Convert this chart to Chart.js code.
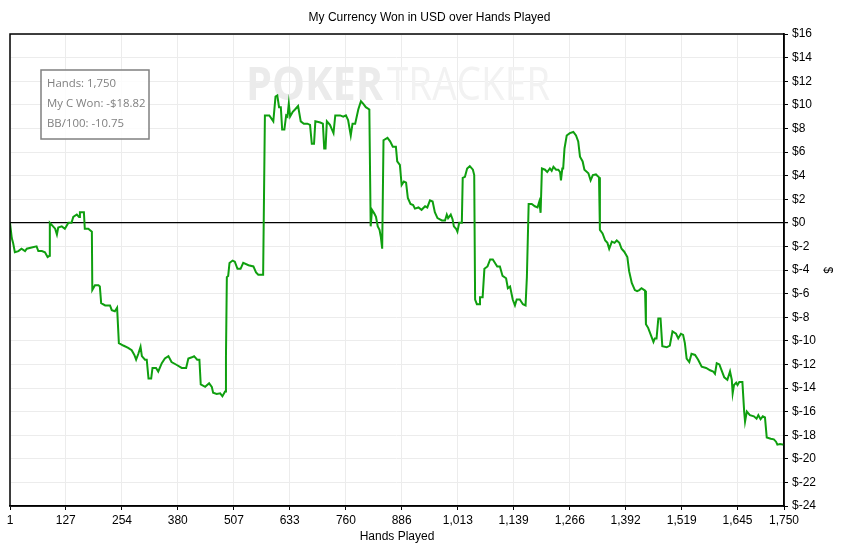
<!DOCTYPE html>
<html>
<head>
<meta charset="utf-8">
<script src="https://cdn.jsdelivr.net/npm/chart.js@4.4.1/dist/chart.umd.min.js"></script>
<style>
  html, body { margin: 0; padding: 0; background: #fff; }
  #wrap { width: 849px; height: 546px; position: relative; }
</style>
</head>
<body>
<div id="wrap"><canvas id="myChart"></canvas></div>
<script>
// hands played (x) and cumulative winnings in USD (y)
const hands = [
  1, 5, 8, 12, 20, 27, 35, 39, 50, 61, 65, 73, 80, 86, 90, 91,
  103, 107, 110, 118, 125, 133, 140, 144, 152, 157, 159, 168, 170, 178, 186, 187,
  193, 201, 204, 207, 216, 227, 231, 238, 243, 247, 257, 268, 276, 282, 286, 291,
  296, 299, 306, 310, 314, 320, 323, 331, 336, 344, 351, 359, 366, 378, 389, 399,
  404, 412, 417, 424, 429, 432, 442, 451, 457, 460, 468, 476, 481, 487, 489, 491,
  494, 497, 504, 509, 515, 522, 528, 540, 551, 557, 562, 573, 577, 587, 596, 601,
  605, 609, 613, 616, 621, 625, 628, 631, 634, 640, 645, 652, 658, 665, 673, 679,
  683, 688, 691, 702, 708, 711, 714, 717, 724, 732, 736, 747, 754, 760, 765, 771,
  775, 781, 788, 794, 799, 805, 813, 816, 819, 824, 828, 832, 836, 839, 842, 845,
  854, 860, 866, 873, 876, 882, 886, 891, 896, 900, 906, 912, 916, 924, 931, 939,
  944, 950, 956, 961, 967, 977, 984, 988, 991, 997, 1001, 1004, 1009, 1012, 1016, 1022,
  1024, 1029, 1034, 1040, 1047, 1050, 1052, 1056, 1061, 1063, 1069, 1073, 1080, 1086, 1092, 1097,
  1102, 1108, 1114, 1122, 1126, 1131, 1137, 1142, 1146, 1153, 1160, 1166, 1169, 1173, 1180, 1187,
  1193, 1197, 1200, 1203, 1210, 1215, 1221, 1225, 1229, 1235, 1240, 1244, 1246, 1249, 1251, 1254,
  1259, 1266, 1274, 1280, 1285, 1289, 1295, 1299, 1308, 1313, 1318, 1325, 1332, 1334, 1340, 1346,
  1351, 1355, 1361, 1367, 1372, 1378, 1383, 1389, 1396, 1400, 1406, 1413, 1418, 1423, 1428, 1436,
  1438, 1443, 1449, 1455, 1458, 1462, 1466, 1471, 1475, 1485, 1492, 1498, 1506, 1511, 1517, 1522,
  1526, 1530, 1536, 1541, 1549, 1556, 1564, 1574, 1583, 1590, 1594, 1598, 1604, 1609, 1615, 1622,
  1628, 1632, 1634, 1637, 1642, 1645, 1649, 1656, 1660, 1662, 1666, 1673, 1682, 1688, 1692, 1697,
  1702, 1707, 1711, 1720, 1727, 1732, 1735, 1741, 1750
];
const wonUsd = [
  0, -1.3, -1.7, -2.5, -2.4, -2.2, -2.4, -2.2, -2.1, -2.0, -2.4, -2.4, -2.5, -2.9, -2.8, 0,
  -0.5, -1.0, -0.4, -0.3, -0.5, 0, 0, 0.5, 0.7, 0.5, 0.9, 0.9, -0.5, -0.5, -0.75, -5.7,
  -5.3, -5.3, -5.4, -6.8, -7.0, -7.0, -7.4, -7.5, -7.2, -10.2, -10.4, -10.6, -10.8, -11.2, -11.6, -11.1,
  -10.5, -11.3, -11.6, -11.6, -13.2, -13.2, -12.3, -12.3, -12.6, -11.9, -11.5, -11.3, -11.8, -12.05, -12.3, -12.3,
  -11.5, -11.4, -11.3, -11.6, -11.6, -13.7, -13.9, -13.6, -13.9, -14.4, -14.5, -14.45, -14.7, -14.3, -11.3, -4.6,
  -4.5, -3.4, -3.2, -3.3, -3.9, -3.9, -3.4, -3.6, -3.7, -4.2, -4.4, -4.4, 9.1, 9.1, 8.6, 10.7,
  10.8, 9.8, 9.8, 7.9, 7.9, 9.1, 9.0, 10.1, 9.0, 9.4, 9.6, 9.9, 8.6, 8.4, 8.4, 8.3,
  6.7, 6.7, 8.6, 8.5, 8.4, 6.3, 6.3, 8.6, 8.3, 7.6, 9.1, 9.1, 9.0, 9.1, 8.7, 7.4,
  8.4, 8.4, 9.6, 10.3, 10.1, 9.8, 9.6, -0.3, 1.1, 0.8, 0.5, -0.3, -0.6, -1.2, -2.2, 7.0,
  7.2, 6.9, 6.45, 6.45, 5.2, 4.9, 3.2, 3.5, 3.4, 2.1, 1.6, 1.5, 1.2, 1.3, 1.1, 1.4,
  1.3, 1.9, 1.8, 0.9, 0.4, 0.2, 0.2, 0.7, 0.4, 0.7, 0.3, -0.3, -0.5, -0.75, 0, 0,
  3.8, 3.9, 4.6, 4.8, 4.5, 4.05, -6.5, -6.9, -6.9, -6.3, -6.3, -3.9, -3.7, -3.1, -3.1, -3.4,
  -3.7, -3.7, -4.5, -4.7, -5.55, -5.4, -6.5, -7.0, -6.5, -6.5, -6.9, -7.0, -4.6, 1.6, 1.6, 1.4,
  1.3, 1.8, 0.85, 4.6, 4.5, 4.3, 4.6, 4.4, 4.75, 4.5, 4.5, 4.3, 3.6, 4.6, 4.6, 6.3,
  7.4, 7.6, 7.7, 7.4, 6.9, 5.6, 5.2, 4.5, 4.2, 3.6, 4.05, 4.1, 3.85, -0.6, -0.9, -1.5,
  -1.7, -2.2, -1.6, -1.7, -1.5, -1.7, -2.2, -2.45, -2.9, -4.1, -5.1, -5.7, -5.8, -5.7, -5.55, -5.75,
  -8.6, -8.9, -9.5, -10.1, -9.8, -9.8, -8.1, -8.1, -10.45, -10.55, -10.4, -9.2, -9.4, -9.8, -9.4, -9.5,
  -10.2, -11.5, -11.8, -11.1, -11.2, -11.6, -12.2, -12.3, -12.5, -12.6, -12.8, -11.9, -12.0, -12.5, -13.1, -13.3,
  -12.6, -13.3, -14.45, -13.75, -13.55, -13.75, -13.5, -13.5, -16.0, -16.85, -16.0, -16.3, -16.4, -16.6, -16.3, -16.65,
  -16.4, -16.5, -18.2, -18.3, -18.35, -18.55, -18.8, -18.75, -18.82
];
const xTicks = [1, 127, 254, 380, 507, 633, 760, 886, 1013, 1139, 1266, 1392, 1519, 1645, 1750];
const yMin = -24;
const yMax = 16;
const summary = ["Hands: 1,750", "My C Won: -$18.82", "BB/100: -10.75"];

const FONT = "'Liberation Sans', Arial, sans-serif";

// faint POKERTRACKER logo behind the line
const watermark = {
  id: "watermark",
  beforeDatasetsDraw(chart) {
    const c = chart.ctx;
    c.save();
    c.textBaseline = "alphabetic";
    c.textAlign = "left";
    c.font = "bold 46px 'Open Sans', sans-serif";
    c.fillStyle = "#ebebeb";
    c.fillText("POKER", 246, 100, 137);
    c.font = "46px 'Open Sans', sans-serif";
    c.fillStyle = "#f2f2f2";
    c.fillText("TRACKER", 387, 100, 163);
    c.restore();
  }
};

// black frame round the plot and the summary box
const frameAndBox = {
  id: "frameAndBox",
  afterDraw(chart) {
    const c = chart.ctx;
    const a = chart.chartArea;
    c.save();
    c.strokeStyle = "#000";
    c.lineWidth = 1.5;
    c.strokeRect(a.left, a.top, a.right - a.left, a.bottom - a.top);

    c.fillStyle = "rgba(255,255,255,0.85)";
    c.fillRect(41, 70, 108, 69);
    c.strokeStyle = "#808080";
    c.lineWidth = 1.5;
    c.strokeRect(41, 70, 108, 69);
    c.fillStyle = "#808080";
    c.font = "11.4px 'Open Sans', sans-serif";
    c.textBaseline = "alphabetic";
    summary.forEach((s, i) => c.fillText(s, 47, 87 + i * 20));
    c.restore();
  }
};

const ctx = document.getElementById("myChart");

new Chart(ctx, {
  type: "line",
  data: {
    datasets: [
      {
        label: "My C Won",
        data: hands.map((h, i) => ({ x: h, y: wonUsd[i] })),
        borderColor: "#0f9f0f",
        borderWidth: 2,
        pointRadius: 0,
        tension: 0,
        fill: false,
      },
    ],
  },
  options: {
    responsive: true,
    maintainAspectRatio: false,
    animation: false,
    events: [],
    layout: { padding: { left: 10, right: 0, top: 0, bottom: 0 } },
    plugins: {
      legend: { display: false },
      tooltip: { enabled: false },
      title: {
        display: true,
        text: "My Currency Won in USD over Hands Played",
        color: "#000",
        font: { family: FONT, size: 12, weight: "normal" },
        padding: { top: 10, bottom: 9.6 },
      },
    },
    scales: {
      x: {
        type: "linear",
        min: 1,
        max: 1750,
        afterBuildTicks: (scale) => {
          scale.ticks = xTicks.map((v) => ({ value: v }));
        },
        afterFit: (scale) => {
          scale.height = 40;
        },
        ticks: {
          autoSkip: false,
          maxRotation: 0,
          color: "#000",
          padding: 3,
          font: { family: FONT, size: 12 },
          callback: (v) => Number(v).toLocaleString("en-US"),
        },
        grid: { color: "#ececec", tickColor: "#000", tickLength: 4 },
        border: { color: "#000", width: 1.5 },
        title: {
          display: true,
          text: "Hands Played",
          color: "#000",
          font: { family: FONT, size: 12 },
          padding: { top: 0, bottom: 2 },
        },
      },
      y: {
        position: "right",
        min: yMin,
        max: yMax,
        afterFit: (scale) => {
          scale.width = 65;
        },
        ticks: {
          stepSize: 2,
          color: "#000",
          padding: 4,
          font: { family: FONT, size: 12 },
          callback: (v) => "$" + v,
        },
        grid: {
          color: (c) => (c.tick && c.tick.value === 0 ? "#000" : "#ececec"),
          lineWidth: (c) => (c.tick && c.tick.value === 0 ? 1.2 : 1),
          tickColor: "#000",
          tickLength: 4,
        },
        border: { color: "#000", width: 1.5 },
        title: {
          display: true,
          text: "$",
          color: "#000",
          font: { family: FONT, size: 12 },
          padding: { top: 14, bottom: 0 },
        },
      },
    },
  },
  plugins: [watermark, frameAndBox],
});
</script>
</body>
</html>
